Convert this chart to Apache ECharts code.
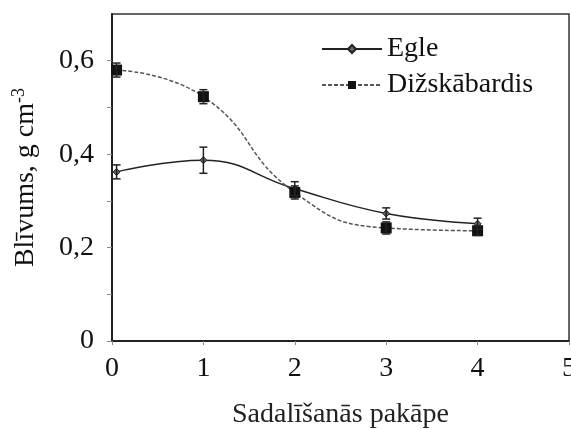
<!DOCTYPE html>
<html>
<head>
<meta charset="UTF-8">
<script src="https://cdn.jsdelivr.net/npm/echarts@6/dist/echarts.min.js"></script>
</head>
<body style="margin:0;padding:0;background:#fff;">
<div id="c" style="width:571px;height:429px;"></div>
<script>
var stages = [0.05, 1, 2, 3, 4];
var egle = [0.362, 0.387, 0.326, 0.273, 0.251];
var egleErr = [0.015, 0.028, 0.015, 0.012, 0.012];
var dizs = [0.58, 0.523, 0.318, 0.242, 0.236];
var dizsErr = [0.015, 0.015, 0.014, 0.013, 0.01];
var yLabels = [0, 0.2, 0.4, 0.6];
var yTicks = [0, 0.1, 0.2, 0.3, 0.4, 0.5, 0.6];

var font = 'Liberation Serif';
function pts(v) { return stages.map(function (x, i) { return [x, v[i]]; }); }
function bars(v, e) { return stages.map(function (x, i) { return [x, v[i] - e[i], v[i] + e[i]]; }); }

function errRender(params, api) {
    var x = api.value(0);
    var lo = api.coord([x, api.value(1)]);
    var hi = api.coord([x, api.value(2)]);
    var w = 4;
    var st = { stroke: '#222', lineWidth: 1.5 };
    return {
        type: 'group',
        children: [
            { type: 'line', shape: { x1: lo[0], y1: lo[1], x2: hi[0], y2: hi[1] }, style: st },
            { type: 'line', shape: { x1: lo[0] - w, y1: lo[1], x2: lo[0] + w, y2: lo[1] }, style: st },
            { type: 'line', shape: { x1: hi[0] - w, y1: hi[1], x2: hi[0] + w, y2: hi[1] }, style: st }
        ]
    };
}

var chart = echarts.init(document.getElementById('c'), null, { renderer: 'canvas' });
chart.setOption({
    animation: false,
    backgroundColor: '#fff',
    grid: {
        left: 112, right: 2, top: 14, bottom: 88, containLabel: false, outerBoundsMode: 'none',
        show: true, borderColor: '#333', borderWidth: 1.5
    },
    legend: {
        orient: 'vertical', left: 316, top: 30, itemWidth: 60, itemHeight: 10, itemGap: 8,
        textStyle: { fontFamily: font, fontSize: 28, color: '#111' },
        data: ['Egle', 'Dižskābardis']
    },
    xAxis: {
        type: 'value', min: 0, max: 5, interval: 1,
        name: 'Sadalīšanās pakāpe', nameLocation: 'middle', nameGap: 60,
        nameTextStyle: { fontFamily: font, fontSize: 28, color: '#222' },
        axisLine: { lineStyle: { color: '#222', width: 2 } },
        axisTick: { length: 4, lineStyle: { color: '#888' } },
        axisLabel: { fontFamily: font, fontSize: 28, color: '#111', margin: 14 },
        splitLine: { show: false }
    },
    yAxis: {
        type: 'value', min: 0, max: 0.7,
        name: '{a|Blīvums, g cm}{s|-3}', nameLocation: 'middle', nameGap: 70,
        nameTextStyle: {
            rich: {
                a: { fontFamily: font, fontSize: 28, color: '#111' },
                s: { fontFamily: font, fontSize: 18, color: '#111', verticalAlign: 'top', padding: [0, 0, 14, 0] }
            }
        },
        axisLine: { show: true, lineStyle: { color: '#222', width: 2 } },
        axisTick: { show: true, length: 5, customValues: yTicks, lineStyle: { color: '#888' } },
        axisLabel: {
            fontFamily: font, fontSize: 28, color: '#111', margin: 18, customValues: yLabels,
            formatter: function (v) { return String(v).replace('.', ','); }
        },
        splitLine: { show: false }
    },
    series: [
        {
            name: 'Egle', type: 'line', smooth: 0.45, data: pts(egle),
            symbol: 'diamond', symbolSize: 7,
            lineStyle: { color: '#222', width: 1.5 },
            itemStyle: { color: '#666', borderColor: '#222', borderWidth: 1 }
        },
        {
            name: 'Dižskābardis', type: 'line', smooth: 0.5, data: pts(dizs),
            symbol: 'rect', symbolSize: 11,
            lineStyle: { color: '#555', width: 1.5, type: [4, 2] },
            itemStyle: { color: '#111' }
        },
        { type: 'custom', renderItem: errRender, data: bars(egle, egleErr), z: 5 },
        { type: 'custom', renderItem: errRender, data: bars(dizs, dizsErr), z: 5 }
    ]
});
</script>
</body>
</html>
